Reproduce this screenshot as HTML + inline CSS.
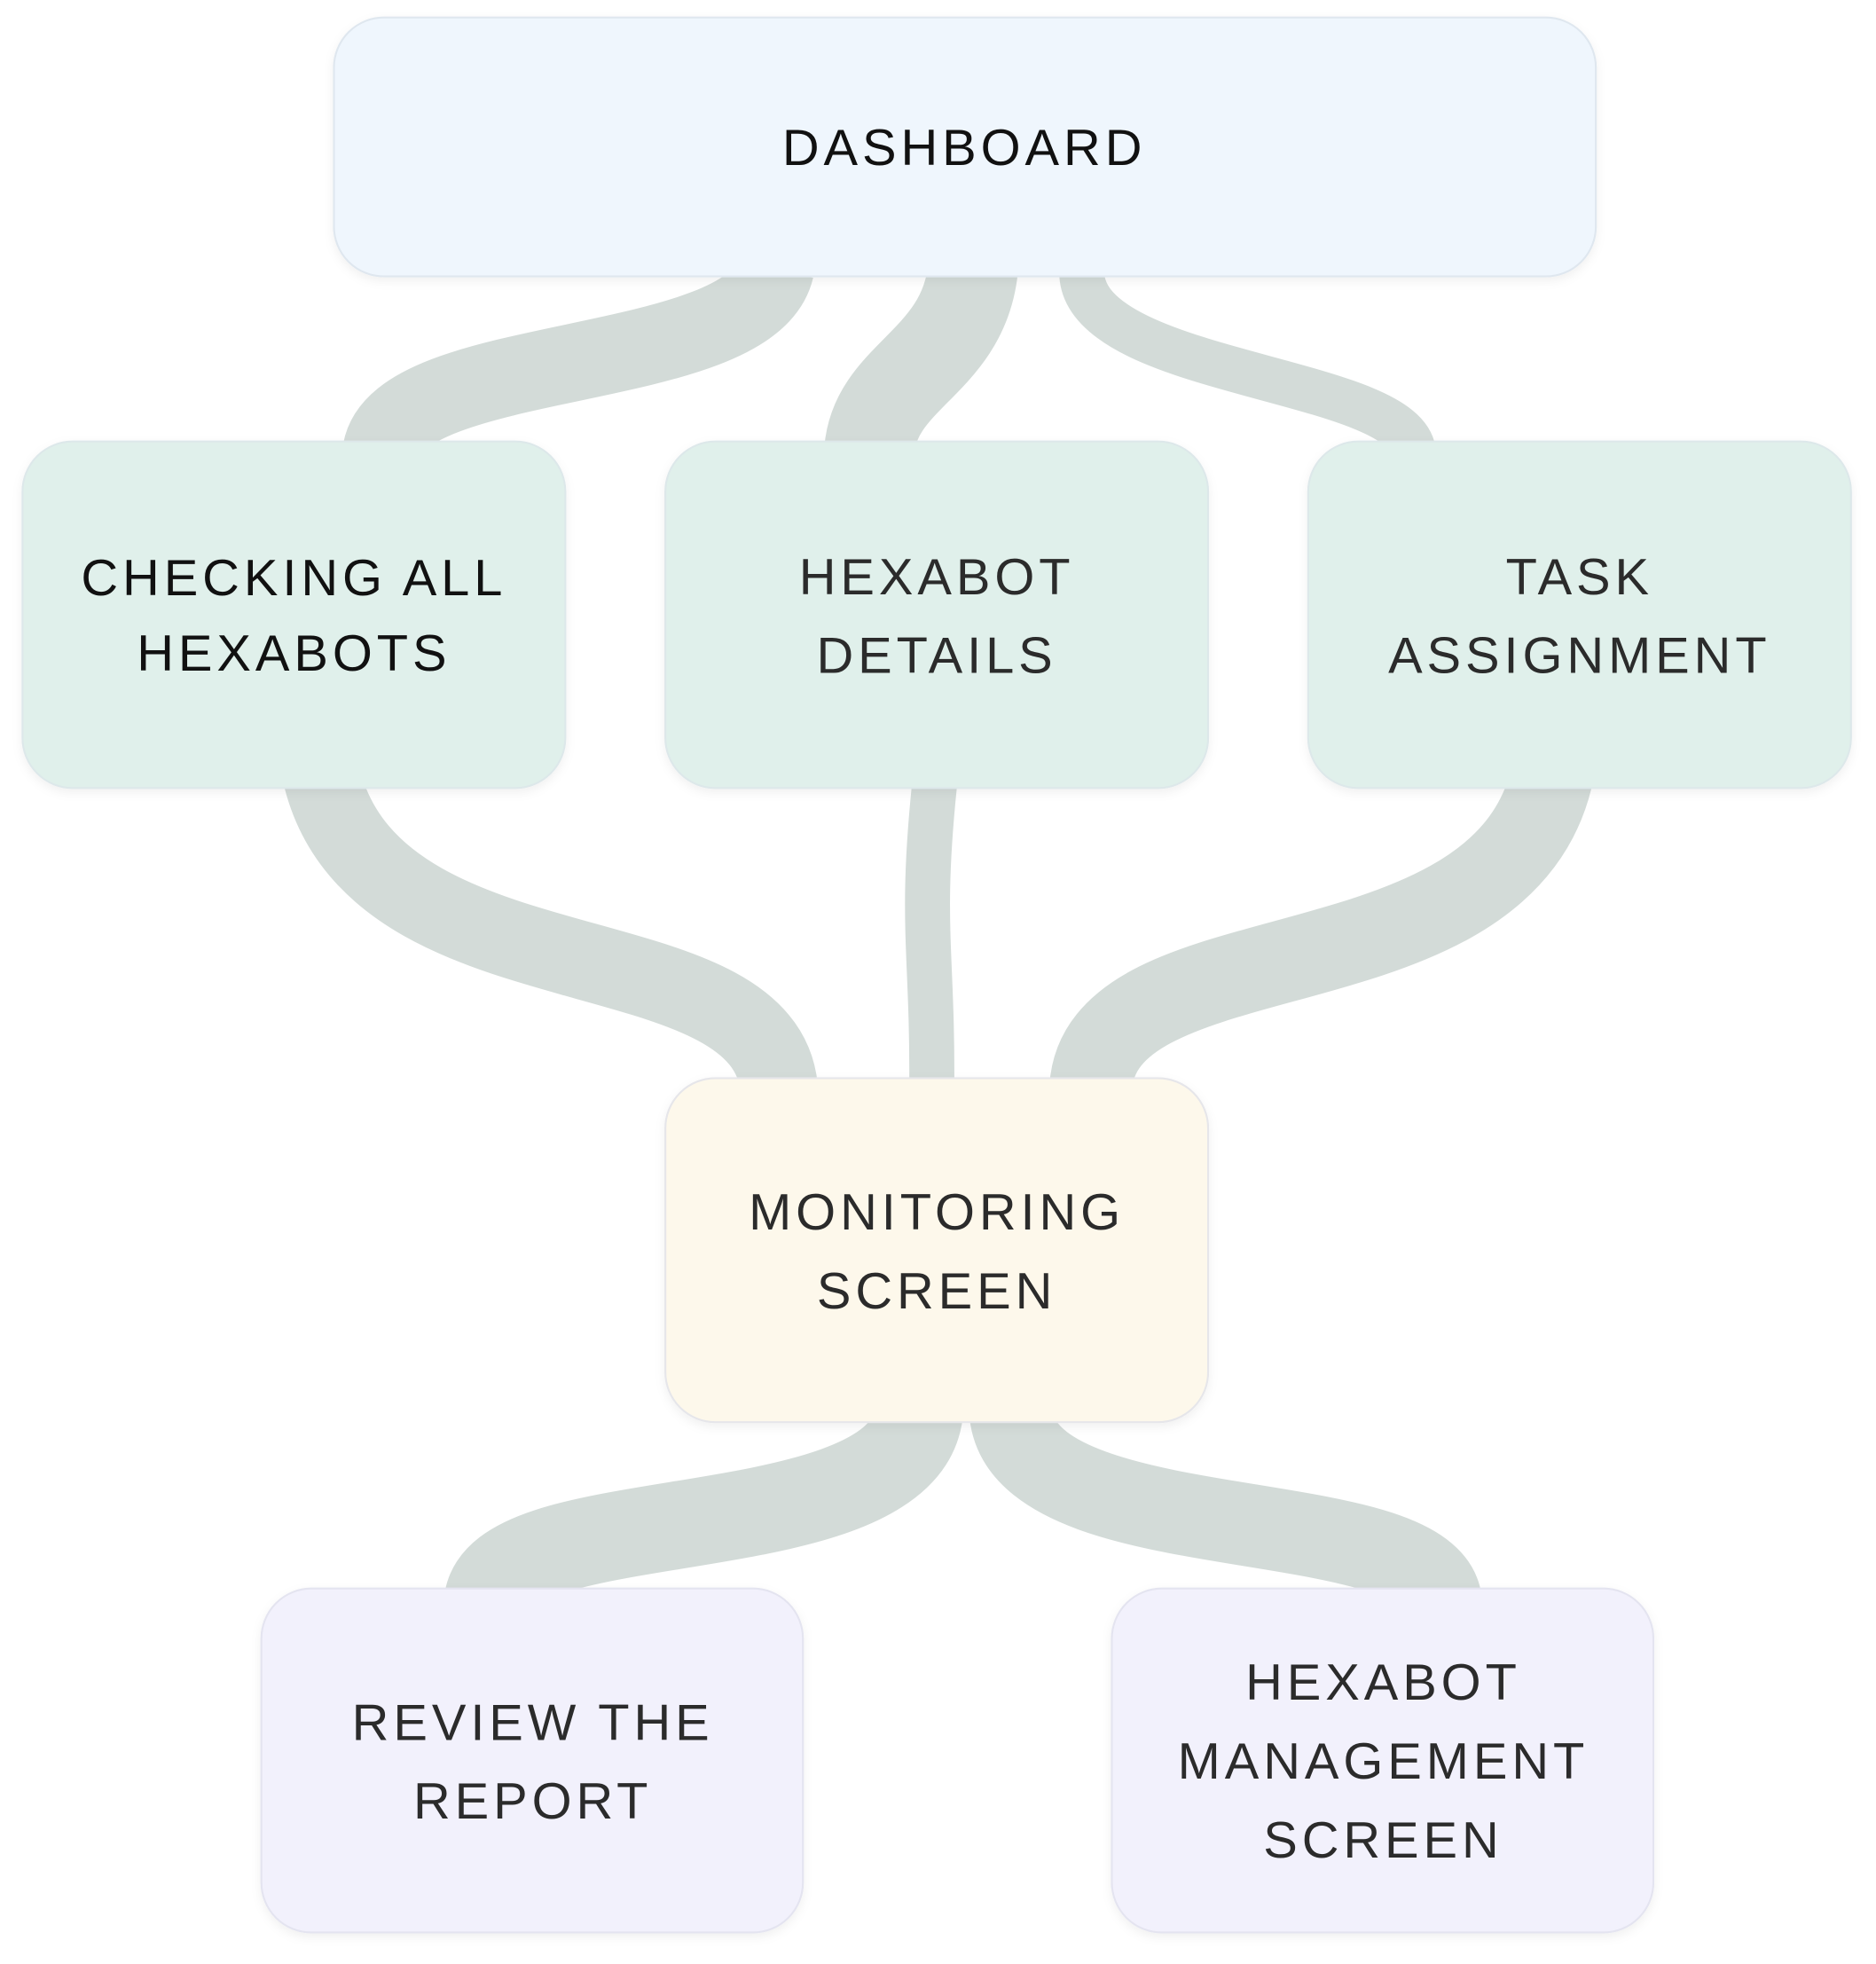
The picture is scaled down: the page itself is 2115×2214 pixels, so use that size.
<!DOCTYPE html>
<html><head><meta charset="utf-8"><style>
html,body{margin:0;padding:0;background:#fff;}
svg{display:block;}
text{font-family:"Liberation Sans",sans-serif;font-size:41px;letter-spacing:3.5px;fill:#2b2b2b;text-anchor:middle;}
</style></head><body>
<svg width="2115" height="2214" viewBox="0 0 1500 1570.2" preserveAspectRatio="none">
<defs>
<filter id="sh" x="-10%" y="-10%" width="120%" height="130%"><feDropShadow dx="0" dy="3" stdDeviation="4" flood-color="#000" flood-opacity="0.06"/></filter>
</defs>
<g fill="none" stroke="#d3dbd8" stroke-linecap="butt">
<path d="M620,215 C600,300 320,280 305,360" stroke-width="62"/>
<path d="M778,215 C770,290 700,300 695,360" stroke-width="72"/>
<path d="M865,215 C860,300 1120,300 1130,360" stroke-width="36"/>
<path d="M257,620 C300,800 610,740 623,870" stroke-width="62"/>
<path d="M748,620 C735,740 746,760 745,870" stroke-width="36"/>
<path d="M1241,620 C1200,800 880,740 872,870" stroke-width="66"/>
<path d="M735,1130 C720,1240 400,1200 390,1280" stroke-width="70"/>
<path d="M808,1130 C820,1240 1140,1200 1152,1280" stroke-width="66"/>
</g>
<g filter="url(#sh)" stroke-width="1.5">
<rect x="267" y="14" width="1009" height="207" rx="40" fill="#eff6fd" stroke="#dfe7ef"/>
<rect x="18" y="353" width="434" height="277" rx="40" fill="#e0f0eb" stroke="#dde8ea"/>
<rect x="532" y="353" width="434" height="277" rx="40" fill="#e0f0eb" stroke="#dde8ea"/>
<rect x="1046" y="353" width="434" height="277" rx="40" fill="#e0f0eb" stroke="#dde8ea"/>
<rect x="532" y="862" width="434" height="275" rx="40" fill="#fdf8eb" stroke="#e6e6ea"/>
<rect x="209" y="1270" width="433" height="275" rx="40" fill="#f2f1fc" stroke="#e4e4f0"/>
<rect x="889" y="1270" width="433" height="275" rx="40" fill="#f2f1fc" stroke="#e4e4f0"/>
</g>
<text x="771" y="132" style="fill:#111">DASHBOARD</text>
<text x="235" y="476" style="fill:#111">CHECKING ALL</text>
<text x="235" y="536" style="fill:#111">HEXABOTS</text>
<text x="749" y="475">HEXABOT</text>
<text x="749" y="538">DETAILS</text>
<text x="1263" y="475">TASK</text>
<text x="1263" y="538">ASSIGNMENT</text>
<text x="749" y="983">MONITORING</text>
<text x="749" y="1046">SCREEN</text>
<text x="426" y="1391">REVIEW THE</text>
<text x="426" y="1454">REPORT</text>
<text x="1106" y="1359">HEXABOT</text>
<text x="1106" y="1422">MANAGEMENT</text>
<text x="1106" y="1485">SCREEN</text>
</svg>
</body></html>
